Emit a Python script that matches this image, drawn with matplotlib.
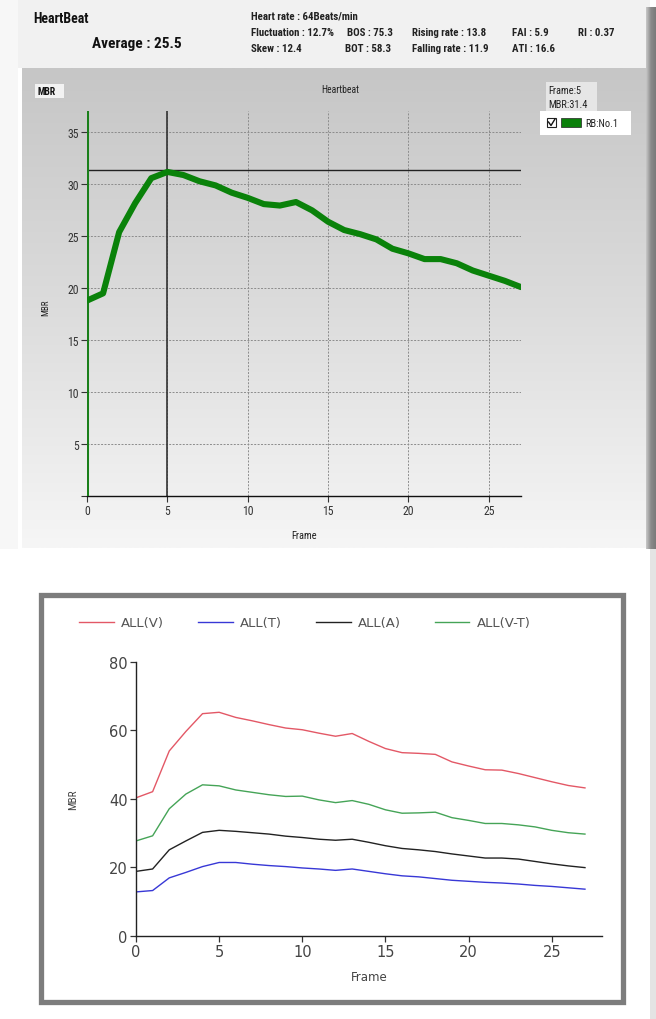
import numpy as np
import matplotlib
matplotlib.use("Agg")
import matplotlib.pyplot as plt
from matplotlib.patches import Rectangle
from matplotlib.colors import LinearSegmentedColormap

# ---------------- data ----------------
frames = list(range(28))
rb_no1 = [18.8, 19.5, 25.4, 28.2, 30.6, 31.2, 30.9, 30.3, 29.9, 29.2, 28.7, 28.1, 27.96, 28.3,
          27.5, 26.4, 25.6, 25.2, 24.7, 23.8, 23.35, 22.8, 22.8, 22.4, 21.7, 21.2, 20.7, 20.1]

all_v = [40.3, 42.1, 54.0, 59.7, 64.9, 65.3, 63.8, 62.8, 61.7, 60.7, 60.2, 59.2, 58.3, 59.1,
         56.8, 54.7, 53.5, 53.3, 53.0, 50.8, 49.6, 48.5, 48.4, 47.4, 46.2, 45.0, 43.9, 43.2]
all_t = [12.8, 13.2, 16.9, 18.5, 20.2, 21.4, 21.4, 20.9, 20.5, 20.2, 19.8, 19.5, 19.1, 19.5,
         18.8, 18.1, 17.5, 17.2, 16.7, 16.2, 15.9, 15.6, 15.4, 15.1, 14.7, 14.4, 14.0, 13.6]
all_a = [18.8, 19.5, 25.1, 27.7, 30.2, 30.8, 30.5, 30.1, 29.7, 29.1, 28.7, 28.2, 27.9, 28.2,
         27.3, 26.3, 25.5, 25.1, 24.6, 23.9, 23.3, 22.7, 22.7, 22.4, 21.7, 21.0, 20.4, 19.9]
all_vt = [27.7, 29.2, 37.1, 41.4, 44.1, 43.8, 42.6, 41.9, 41.2, 40.7, 40.8, 39.7, 38.9, 39.5,
          38.4, 36.8, 35.8, 35.9, 36.1, 34.5, 33.7, 32.8, 32.8, 32.4, 31.8, 30.8, 30.1, 29.7]
series_names = ["ALL(V)", "ALL(T)", "ALL(A)", "ALL(V-T)"]
series_colors = ["#e35866", "#3838d6", "#222222", "#45a457"]

cursor_frame = 5
cursor_mbr = 31.4

header_title = "HeartBeat"
header_avg = "Average : 25.5"
info_rows = [
    [(251, "Heart rate : 64Beats/min")],
    [(251, "Fluctuation : 12.7%"), (347, "BOS : 75.3"), (412, "Rising rate : 13.8"), (512, "FAI : 5.9"), (578, "RI : 0.37")],
    [(251, "Skew : 12.4"), (345, "BOT : 58.3"), (412, "Falling rate : 11.9"), (512, "ATI : 16.6")],
]

W, H = 656, 1020
NARROW = ["Liberation Sans Narrow", "Roboto Condensed", "Liberation Sans", "DejaVu Sans"]
WIDE = ["DejaVu Sans"]

fig = plt.figure(figsize=(W / 100, H / 100), dpi=100)
fig.patch.set_facecolor("white")

# ---------------- background (pixel coords) ----------------
bg = fig.add_axes([0, 0, 1, 1], zorder=-5)
bg.set_xlim(0, W)
bg.set_ylim(H, 0)
bg.axis("off")

bg.add_patch(Rectangle((0, 0), 18, 550, color="#f7f7f7", lw=0))
bg.add_patch(Rectangle((18, 0), 632, 69, color="#f1f1f1", lw=0))
grad = np.linspace(0, 1, 256).reshape(-1, 1)
cm = LinearSegmentedColormap.from_list("g", ["#c6c6c6", "#dcdcdc", "#f6f6f6"])
bg.imshow(grad, cmap=cm, aspect="auto", extent=(22, 650, 549, 69), zorder=1)
cm2 = LinearSegmentedColormap.from_list("s", ["#c8c8c8", "#8a8a8a", "#7a7a7a"])
bg.imshow(np.linspace(0, 1, 64).reshape(1, -1), cmap=cm2, aspect="auto",
          extent=(646, 656, 550, 8), zorder=1)
bg.add_patch(Rectangle((650, 550), 6, 470, color="#e4e4e4", lw=0))

bg.text(33, 19, header_title, fontsize=10, fontweight="bold", family=NARROW, va="center", color="#111")
bg.text(92, 44, header_avg, fontsize=11, fontweight="bold", family=NARROW, va="center", color="#111")
for row, yy in zip(info_rows, [17, 33, 49]):
    for x, t in row:
        bg.text(x, yy, t, fontsize=7.8, fontweight="bold", family=NARROW, va="center", color="#222")

bg.add_patch(Rectangle((35, 85), 29, 14, color="#f2f2f2", lw=0, zorder=2))
bg.text(38, 92, "MBR", fontsize=7, fontweight="bold", family=NARROW, va="center", color="#111", zorder=3)
bg.text(340, 90, "Heartbeat", fontsize=7, family=NARROW, va="center", ha="center", color="#222")
bg.add_patch(Rectangle((546, 83), 51, 29, color="#e6e6e6", lw=0, zorder=2))
bg.text(548, 91, "Frame:%d" % cursor_frame, fontsize=7.5, family=NARROW, va="center", color="#222", zorder=3)
bg.text(548, 105, "MBR:%.1f" % cursor_mbr, fontsize=7.5, family=NARROW, va="center", color="#222", zorder=3)
bg.add_patch(Rectangle((540, 112), 91, 24, color="white", lw=0, zorder=2))
bg.add_patch(Rectangle((547, 119), 9, 9, facecolor="white", edgecolor="#222", lw=0.8, zorder=3))
bg.plot([548.5, 551, 555], [123, 126.5, 120], color="#111", lw=1.0, zorder=4)
bg.add_patch(Rectangle((561, 119), 20, 9, facecolor="#0a800a", edgecolor="#222", lw=0.5, zorder=3))
bg.text(585, 124, "RB:No.1", fontsize=7.5, family=NARROW, va="center", color="#222", zorder=3)

bg.add_patch(Rectangle((40.5, 595.5), 582, 407, facecolor="none", edgecolor="#7d7d7d", lw=3.8, zorder=2))

# ---------------- top chart ----------------
ax1 = fig.add_axes([87 / W, 1 - 496.7 / H, (521 - 87) / W, (496.7 - 111.7) / H])
ax1.patch.set_alpha(0)
ax1.set_xlim(0, 27)
ax1.set_ylim(0, 37.1)
ax1.set_xticks([0, 5, 10, 15, 20, 25])
ax1.set_yticks([0, 5, 10, 15, 20, 25, 30, 35])
ax1.set_yticklabels(["", "5", "10", "15", "20", "25", "30", "35"])
ax1.grid(True, color="#8c8c8c", lw=0.7, ls=(0, (2, 1.5)))
for s in ["top", "right", "left"]:
    ax1.spines[s].set_visible(False)
ax1.spines["bottom"].set_color("#111")
ax1.spines["bottom"].set_linewidth(1.0)
ax1.tick_params(axis="both", length=4, width=0.8, color="#333", labelsize=8.5, labelcolor="#333", pad=2)
for lab in ax1.get_xticklabels() + ax1.get_yticklabels():
    lab.set_family(NARROW)
ax1.axvline(0, color="#1a7f1a", lw=2.2, zorder=3)
ax1.axvline(cursor_frame, color="#333333", lw=1.2, zorder=2)
ax1.axhline(cursor_mbr, color="#222222", lw=1.0, zorder=2)
ax1.plot(frames, rb_no1, color="#0a820a", lw=4.4, solid_capstyle="round", solid_joinstyle="round", zorder=4)
ax1.set_xlabel("Frame", fontsize=7.5, family=NARROW, color="#222")
ax1.xaxis.set_label_coords(0.5, -0.09)
ax1.set_ylabel("MBR", fontsize=6.5, family=NARROW, color="#222")
ax1.yaxis.set_label_coords(-0.085, 0.49)

# ---------------- bottom chart ----------------
ax2 = fig.add_axes([136 / W, 1 - 936.7 / H, (601.6 - 136) / W, (936.7 - 663) / H])
ax2.patch.set_alpha(0)
for vals, name, col in zip([all_v, all_t, all_a, all_vt], series_names, series_colors):
    ax2.plot(frames, vals, color=col, lw=1.0, label=name)
ax2.set_xlim(0, 28)
ax2.set_ylim(0, 80)
ax2.set_xticks([0, 5, 10, 15, 20, 25])
ax2.set_yticks([0, 20, 40, 60, 80])
for s in ["top", "right"]:
    ax2.spines[s].set_visible(False)
for s in ["left", "bottom"]:
    ax2.spines[s].set_color("#222")
    ax2.spines[s].set_linewidth(1.0)
ax2.tick_params(axis="both", length=4, width=0.9, color="#333", labelsize=10.5, labelcolor="#444", pad=2)
for lab in ax2.get_xticklabels() + ax2.get_yticklabels():
    lab.set_family(WIDE)
ax2.set_xlabel("Frame", fontsize=8.5, family=WIDE, color="#444")
ax2.xaxis.set_label_coords(0.5, -0.125)
ax2.set_ylabel("MBR", fontsize=8, family=NARROW, color="#444")
ax2.yaxis.set_label_coords(-0.125, 0.5)

fig.legend(loc="center", bbox_to_anchor=(305 / W, 1 - 624 / H), ncol=4, frameon=False,
           prop={"family": WIDE, "size": 9.5}, handlelength=2.6, columnspacing=2.6,
           handletextpad=0.55, labelcolor="#555")

fig.savefig("out.png", dpi=100, facecolor="white")
